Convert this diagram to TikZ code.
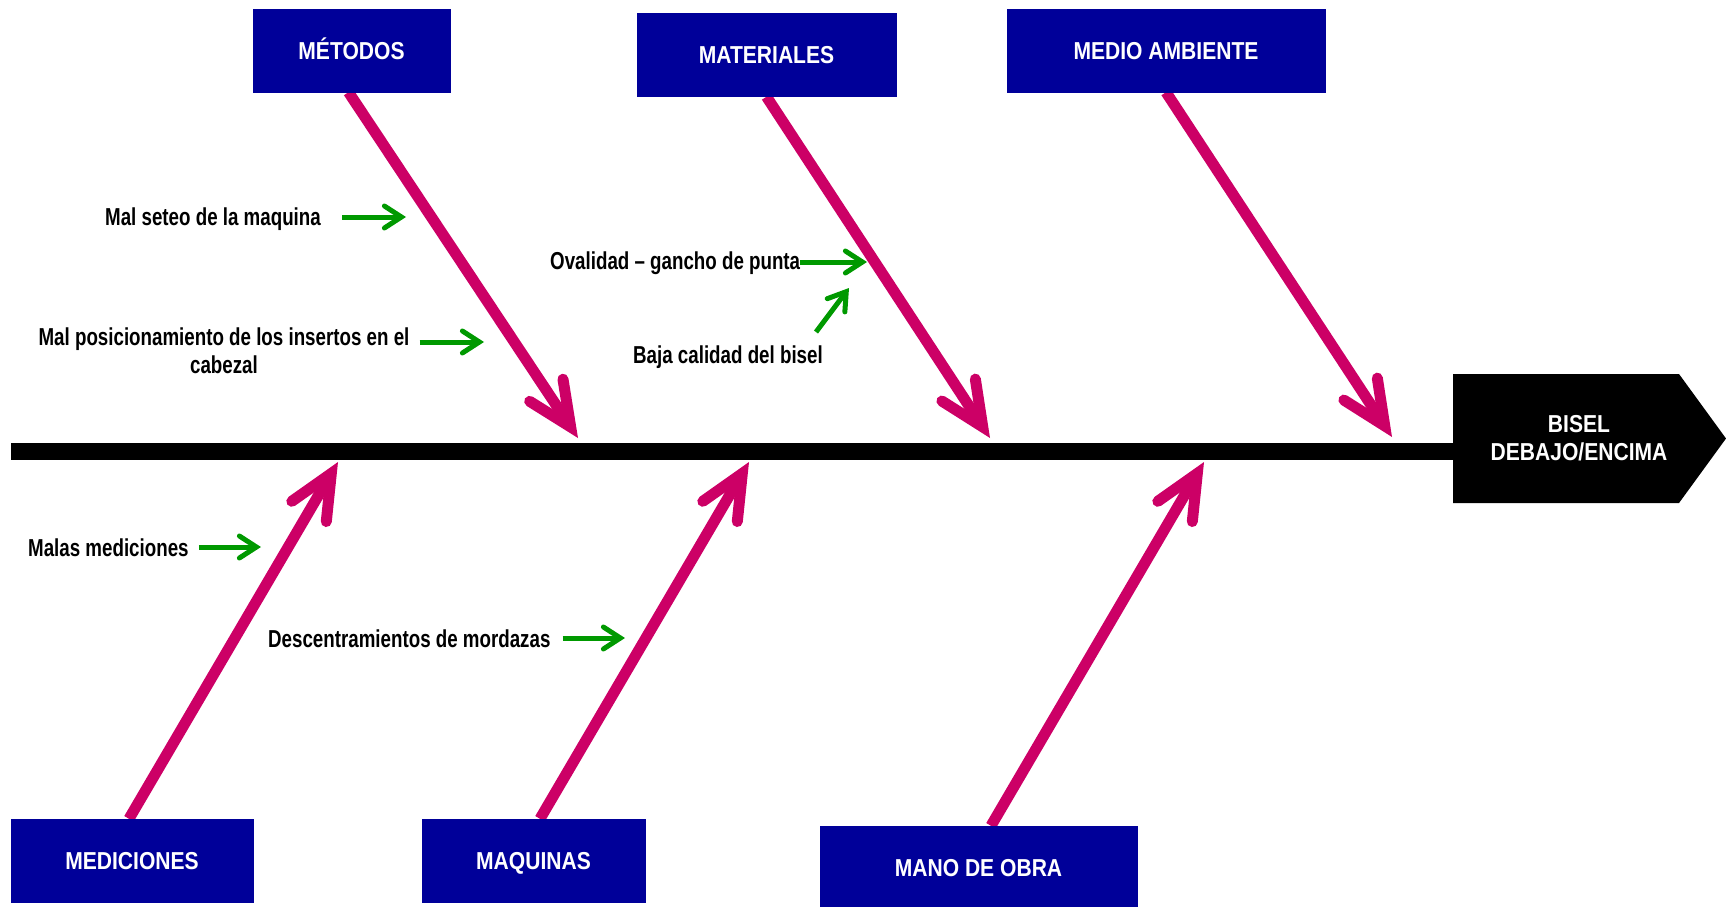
\documentclass[tikz,border=0pt]{standalone}
\usepackage{fontspec}
\newfontfamily\notefont[FakeStretch=0.765]{Liberation Sans}
\newfontfamily\boxfont[FakeStretch=0.86]{Liberation Sans}
\usetikzlibrary{arrows.meta,backgrounds,calc}
\definecolor{catblue}{RGB}{0,0,153}
\definecolor{bonemag}{RGB}{204,0,102}
\definecolor{subgreen}{RGB}{0,153,0}
\begin{document}
\begin{tikzpicture}[x=1pt,y=-1pt,
  catbox/.style={fill=catblue, draw=catblue, text=white,
    font=\boxfont\bfseries\fontsize{24.5}{28}\selectfont,
    text height=17.5pt, text depth=0pt, inner sep=0pt, minimum height=83pt},
  note/.style={font=\notefont\bfseries\fontsize{24.5}{28}\selectfont, inner sep=0pt, text=black},
  bone/.style={draw=bonemag, line width=11pt,
    -{Straight Barb[length=44pt,width=40pt,line cap=round,line join=miter]}},
  sub/.style={draw=subgreen, line width=5pt,
    -{Straight Barb[length=17pt,width=22pt,line cap=round,line join=miter]}},
]
\useasboundingbox (0,0) rectangle (1726,907);

% category boxes
\node[catbox, minimum width=197pt] (metodos) at (351.5,50.5) {MÉTODOS};
\node[catbox, minimum width=259pt] (materiales) at (766.5,55) {MATERIALES};
\node[catbox, minimum width=318pt] (medio) at (1166,50.5) {MEDIO AMBIENTE};
\node[catbox, minimum width=242pt] (mediciones) at (132,860.5) {MEDICIONES};
\node[catbox, minimum width=223pt] (maquinas) at (533.5,860.5) {MAQUINAS};
\node[catbox, minimum width=317pt] (mano) at (978.5,867.5) {MANO DE OBRA};

% effect head
\fill[black] (1453,374) -- (1679,374) -- (1726,438.5) -- (1679,503) -- (1453,503) -- cycle;
\node[font=\boxfont\bfseries\fontsize{24.5}{28}\selectfont, text=white, align=center, inner sep=0pt]
  (efecto) at (1579,438.3) {BISEL\\DEBAJO/ENCIMA};

% spine and bones
\coordinate (spinestart) at (11,451.5);
\coordinate (spineend) at (1453,451.5);
\coordinate (tMet) at (578,438);
\coordinate (tMat) at (990,438);
\coordinate (tMed) at (1392,437);
\coordinate (tMedi) at (338,462);
\coordinate (tMaq) at (749,462);
\coordinate (tMano) at (1204,462);
\begin{pgfonlayer}{background}
\draw[line width=17pt] (spinestart) -- (spineend);
\draw[bone] ([xshift=-3pt]metodos.south) -- (tMet);
\draw[bone] (materiales.south) -- (tMat);
\draw[bone] (medio.south) -- (tMed);
\draw[bone] ([xshift=-3pt]mediciones.north) -- (tMedi);
\draw[bone] ([xshift=6.5pt]maquinas.north) -- (tMaq);
\draw[bone] ([xshift=12.5pt]mano.north) -- (tMano);
\end{pgfonlayer}

% causes
\node[note, anchor=base west] (seteo) at (105,225) {Mal seteo de la maquina};
\node[note, align=center] (posic) at (224,350.5) {Mal posicionamiento de los insertos en el\\cabezal};
\node[note, anchor=base west] (ovalidad) at (550,269) {Ovalidad – gancho de punta};
\node[note, anchor=base west] (baja) at (633,363) {Baja calidad del bisel};
\node[note, anchor=base west] (malas) at (28,556) {Malas mediciones};
\node[note, anchor=base west] (descen) at (268,647) {Descentramientos de mordazas};

\coordinate (gSet) at (406,217);
\coordinate (gPos) at (484,342);
\coordinate (gOva) at (867,262);
\coordinate (gBaja) at (849,288);
\coordinate (gMal) at (261,547);
\coordinate (gDes) at (625,638);

\draw[sub] ($(seteo.east |- gSet)+(21,0)$) -- (gSet);
\draw[sub] ($(posic.east |- gPos)+(10,0)$) -- (gPos);
\draw[sub] (ovalidad.east |- gOva) -- (gOva);
\draw[sub] ($(baja.north east)+(-7,-13)$) -- (gBaja);
\draw[sub] ($(malas.east |- gMal)+(10,0)$) -- (gMal);
\draw[sub] ($(descen.east |- gDes)+(12,0)$) -- (gDes);
\end{tikzpicture}
\end{document}
